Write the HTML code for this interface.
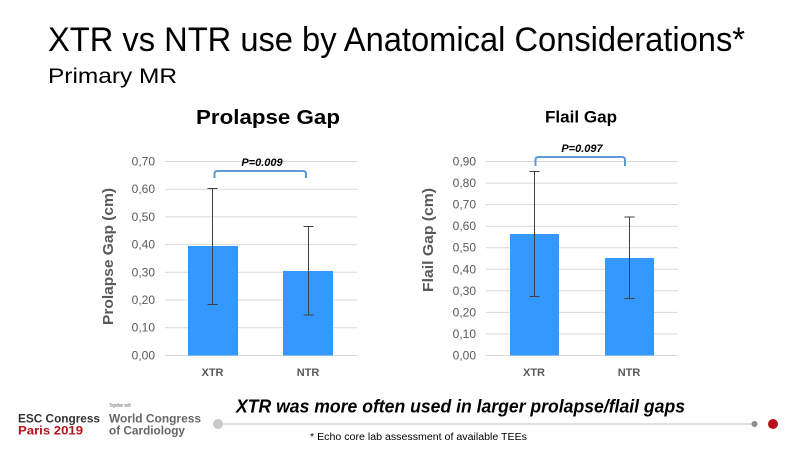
<!DOCTYPE html>
<html><head><meta charset="utf-8"><style>
html,body{margin:0;padding:0;background:#fff;}
svg{display:block;}
</style></head><body>
<svg width="800" height="450" viewBox="0 0 800 450" xmlns="http://www.w3.org/2000/svg" font-family="Liberation Sans, sans-serif">
<rect width="800" height="450" fill="#fff"/>
<!-- Titles -->
<text x="48" y="51" font-size="34" fill="#000" textLength="697" lengthAdjust="spacingAndGlyphs">XTR vs NTR use by Anatomical Considerations*</text>
<text x="48" y="83" font-size="21" fill="#000" textLength="129" lengthAdjust="spacingAndGlyphs">Primary MR</text>

<!-- LEFT CHART -->
<text x="196" y="124" font-size="20" font-weight="bold" fill="#000" textLength="144" lengthAdjust="spacingAndGlyphs">Prolapse Gap</text>
<g stroke="#d9d9d9" stroke-width="1">
<line x1="165" y1="161.5" x2="357" y2="161.5"/>
<line x1="165" y1="189.2" x2="357" y2="189.2"/>
<line x1="165" y1="216.9" x2="357" y2="216.9"/>
<line x1="165" y1="244.6" x2="357" y2="244.6"/>
<line x1="165" y1="272.3" x2="357" y2="272.3"/>
<line x1="165" y1="300" x2="357" y2="300"/>
<line x1="165" y1="327.7" x2="357" y2="327.7"/>
<line x1="165" y1="355.5" x2="357" y2="355.5"/>
</g>
<g font-size="12" fill="#595959" text-anchor="end">
<text x="155" y="165.5">0,70</text>
<text x="155" y="193.2">0,60</text>
<text x="155" y="220.9">0,50</text>
<text x="155" y="248.6">0,40</text>
<text x="155" y="276.3">0,30</text>
<text x="155" y="304">0,20</text>
<text x="155" y="331.7">0,10</text>
<text x="155" y="359.5">0,00</text>
</g>
<text transform="translate(113,256.5) rotate(-90)" text-anchor="middle" font-size="15" font-weight="bold" fill="#595959" textLength="137" lengthAdjust="spacingAndGlyphs">Prolapse Gap (cm)</text>
<rect x="188" y="246" width="50" height="109.5" fill="#3399ff"/>
<rect x="283" y="271" width="50" height="84.5" fill="#3399ff"/>
<g stroke="#404040" stroke-width="1">
<line x1="212.5" y1="188.5" x2="212.5" y2="304.5"/>
<line x1="207.5" y1="188.5" x2="217.5" y2="188.5"/>
<line x1="207.5" y1="304.5" x2="217.5" y2="304.5"/>
<line x1="308.5" y1="226.5" x2="308.5" y2="315"/>
<line x1="303.5" y1="226.5" x2="313.5" y2="226.5"/>
<line x1="303.5" y1="315" x2="313.5" y2="315"/>
</g>
<g font-size="11" font-weight="bold" fill="#595959" text-anchor="middle">
<text x="212.5" y="376">XTR</text>
<text x="308" y="376">NTR</text>
</g>
<path d="M214.5,178 V174 Q214.5,171 217.5,171 H303 Q306,171 306,174 V178" fill="none" stroke="#5b9bd5" stroke-width="2"/>
<text x="262" y="166" font-size="11" font-weight="bold" font-style="italic" fill="#000" text-anchor="middle">P=0.009</text>

<!-- RIGHT CHART -->
<text x="545" y="122.7" font-size="17" font-weight="bold" fill="#000" textLength="72" lengthAdjust="spacingAndGlyphs">Flail Gap</text>
<g stroke="#d9d9d9" stroke-width="1">
<line x1="486" y1="161.5" x2="678" y2="161.5"/>
<line x1="486" y1="183.1" x2="678" y2="183.1"/>
<line x1="486" y1="204.6" x2="678" y2="204.6"/>
<line x1="486" y1="226.2" x2="678" y2="226.2"/>
<line x1="486" y1="247.7" x2="678" y2="247.7"/>
<line x1="486" y1="269.3" x2="678" y2="269.3"/>
<line x1="486" y1="290.8" x2="678" y2="290.8"/>
<line x1="486" y1="312.4" x2="678" y2="312.4"/>
<line x1="486" y1="333.9" x2="678" y2="333.9"/>
<line x1="486" y1="355.5" x2="678" y2="355.5"/>
</g>
<g font-size="12" fill="#595959" text-anchor="end">
<text x="476" y="165.5">0,90</text>
<text x="476" y="187.1">0,80</text>
<text x="476" y="208.6">0,70</text>
<text x="476" y="230.2">0,60</text>
<text x="476" y="251.7">0,50</text>
<text x="476" y="273.3">0,40</text>
<text x="476" y="294.8">0,30</text>
<text x="476" y="316.4">0,20</text>
<text x="476" y="337.9">0,10</text>
<text x="476" y="359.5">0,00</text>
</g>
<text transform="translate(433,240) rotate(-90)" text-anchor="middle" font-size="15" font-weight="bold" fill="#595959" textLength="104" lengthAdjust="spacingAndGlyphs">Flail Gap (cm)</text>
<rect x="510" y="234" width="49" height="121.5" fill="#3399ff"/>
<rect x="605" y="258" width="49" height="97.5" fill="#3399ff"/>
<g stroke="#404040" stroke-width="1">
<line x1="534.5" y1="171.5" x2="534.5" y2="296.5"/>
<line x1="529.5" y1="171.5" x2="539.5" y2="171.5"/>
<line x1="529.5" y1="296.5" x2="539.5" y2="296.5"/>
<line x1="629.5" y1="217" x2="629.5" y2="298.5"/>
<line x1="624.5" y1="217" x2="634.5" y2="217"/>
<line x1="624.5" y1="298.5" x2="634.5" y2="298.5"/>
</g>
<g font-size="11" font-weight="bold" fill="#595959" text-anchor="middle">
<text x="534" y="376">XTR</text>
<text x="629" y="376">NTR</text>
</g>
<path d="M535.5,166 V160 Q535.5,157 538.5,157 H622 Q625,157 625,160 V166" fill="none" stroke="#5b9bd5" stroke-width="2"/>
<text x="582" y="152" font-size="11" font-weight="bold" font-style="italic" fill="#000" text-anchor="middle">P=0.097</text>

<!-- FOOTER -->
<text x="236" y="412.5" font-size="18" font-weight="bold" font-style="italic" fill="#000" textLength="449" lengthAdjust="spacingAndGlyphs">XTR was more often used in larger prolapse/flail gaps</text>
<line x1="218" y1="424" x2="754" y2="424" stroke="#d6d6d6" stroke-width="1.5"/>
<circle cx="218" cy="424" r="5" fill="#c8c8c8"/>
<circle cx="754.5" cy="424" r="3" fill="#8c8c8c"/>
<circle cx="773" cy="424" r="5" fill="#b5121b"/>
<text x="310" y="440" font-size="10" fill="#000" textLength="217" lengthAdjust="spacingAndGlyphs">* Echo core lab assessment of available TEEs</text>

<text x="18" y="422.5" font-size="12" font-weight="bold" fill="#333" textLength="82" lengthAdjust="spacingAndGlyphs">ESC Congress</text>
<text x="18" y="434.5" font-size="12" font-weight="bold" fill="#b5121b" textLength="65" lengthAdjust="spacingAndGlyphs">Paris 2019</text>
<text x="109" y="407" font-size="5" fill="#666" textLength="22" lengthAdjust="spacingAndGlyphs">Together with</text>
<text x="109" y="422.5" font-size="12" font-weight="bold" fill="#666" textLength="92" lengthAdjust="spacingAndGlyphs">World Congress</text>
<text x="109" y="434.5" font-size="12" font-weight="bold" fill="#666" textLength="76" lengthAdjust="spacingAndGlyphs">of Cardiology</text>
</svg>
</body></html>
